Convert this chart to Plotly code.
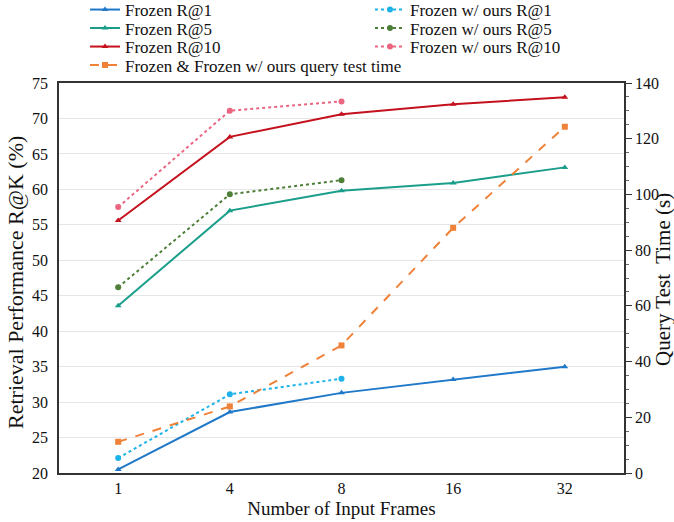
import plotly.graph_objects as go

frames = ["1", "4", "8", "16", "32"]
frames_ours = ["1", "4", "8"]

frozen_r1 = [20.5, 28.6, 31.3, 33.2, 35.0]
frozen_r5 = [43.6, 57.0, 59.8, 60.9, 63.1]
frozen_r10 = [55.6, 67.4, 70.6, 72.0, 73.0]
ours_r1 = [22.1, 31.1, 33.3]
ours_r5 = [46.2, 59.3, 61.3]
ours_r10 = [57.5, 71.1, 72.4]
query_time = [11.2, 23.9, 45.8, 88.0, 124.3]

FONT = "Liberation Serif"

fig = go.Figure()

def add(name, x, y, color, dash, symbol, legend, yaxis="y"):
    fig.add_trace(go.Scatter(
        x=x, y=y, name=name, mode="lines+markers", yaxis=yaxis, legend=legend,
        line=dict(color=color, width=2, dash=dash),
        marker=dict(symbol=symbol, size=6, color=color),
    ))

add("Frozen R@1", frames, frozen_r1, "#1f78c8", "solid", "triangle-up", "legend2")
add("Frozen R@5", frames, frozen_r5, "#1a9e8a", "solid", "triangle-up", "legend3")
add("Frozen R@10", frames, frozen_r10, "#c4111d", "solid", "triangle-up", "legend4")
add("Frozen & Frozen w/ ours query test time", frames, query_time, "#ef8238", "dash", "square", "legend5", yaxis="y2")
add("Frozen w/ ours R@1", frames_ours, ours_r1, "#1cb2ea", "dot", "circle", "legend6")
add("Frozen w/ ours R@5", frames_ours, ours_r5, "#4e7f38", "dot", "circle", "legend7")
add("Frozen w/ ours R@10", frames_ours, ours_r10, "#ea6680", "dot", "circle", "legend8")

W = 674.0
H = 522.0

def leg(xpx, ypx):
    return dict(
        orientation="v", yanchor="middle", xanchor="left", xref="container",
        yref="container", x=xpx / W, y=1 - ypx / H, itemwidth=30,
        font=dict(family=FONT, size=17), bgcolor="rgba(0,0,0,0)",
    )

rows = [10, 28.5, 47, 65.5]
c1, c2 = 85, 370

fig.update_layout(
    width=int(W), height=int(H),
    margin=dict(l=59, r=50, t=83, b=49, autoexpand=False),
    plot_bgcolor="white", paper_bgcolor="white",
    font=dict(family=FONT, size=16, color="#111"),
    legend2=leg(c1, rows[0]),
    legend3=leg(c1, rows[1]),
    legend4=leg(c1, rows[2]),
    legend5=leg(c1, rows[3]),
    legend6=leg(c2, rows[0]),
    legend7=leg(c2, rows[1]),
    legend8=leg(c2, rows[2]),
    xaxis=dict(
        type="category", categoryorder="array", categoryarray=frames,
        range=[-0.53, 4.53], showgrid=False, showline=True, linecolor="#333",
        linewidth=1.5, mirror=True, ticks="",
        title=dict(text="Number of Input Frames", font=dict(size=19), standoff=6),
    ),
    yaxis=dict(
        range=[20, 75], dtick=5, showgrid=True, gridcolor="#e6e6e6",
        showline=True, linecolor="#333", linewidth=1.5, zeroline=False,
        ticks="outside", ticklen=6, tickcolor="rgba(0,0,0,0)",
    ),
    yaxis2=dict(
        range=[0, 140], dtick=20, overlaying="y", side="right", showgrid=False,
        showline=True, linecolor="#333", linewidth=1.5, ticks="outside",
        ticklen=6, tickcolor="#333", zeroline=False,
        minor=dict(dtick=5, ticks="outside", ticklen=3, tickcolor="#666"),
    ),
    annotations=[
        dict(
            text="Retrieval Performance R@K (%)", textangle=-90, showarrow=False,
            xref="paper", yref="paper", x=0, y=0.5, xanchor="center", yanchor="middle",
            xshift=-44, yshift=-5, font=dict(family=FONT, size=22),
        ),
        dict(
            text="Query Test  Time (s)", textangle=-90, showarrow=False,
            xref="paper", yref="paper", x=1, y=0.5, xanchor="center", yanchor="middle",
            xshift=39, yshift=-2, font=dict(family=FONT, size=21),
        ),
    ],
)

fig.write_html("out.html", config={"displayModeBar": False},
               post_script="document.body.style.margin='0px';")
